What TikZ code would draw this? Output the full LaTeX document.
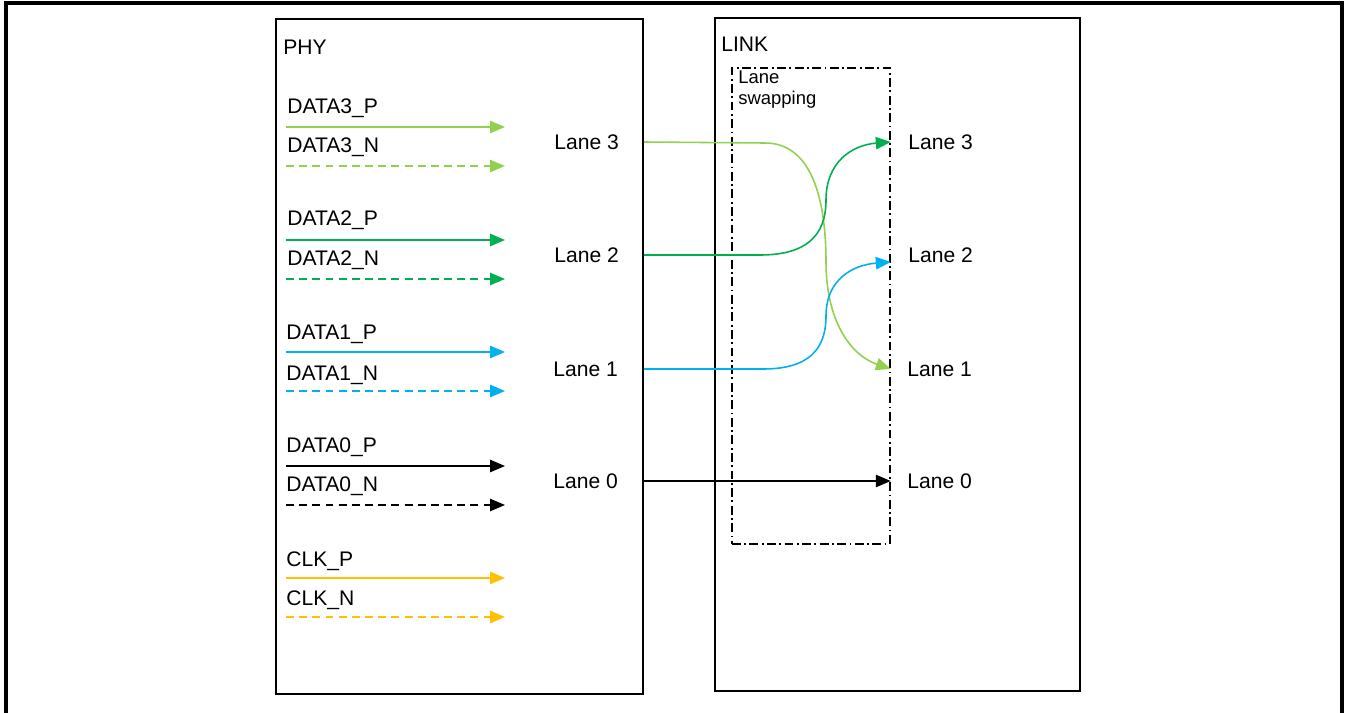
\documentclass[tikz,border=0pt]{standalone}
\usepackage{fontspec}
\setmainfont{Liberation Sans}
\usetikzlibrary{positioning, arrows.meta, calc}
\definecolor{lgreen}{RGB}{146,208,80}
\definecolor{dgreen}{RGB}{0,176,80}
\definecolor{lblue}{RGB}{0,176,240}
\definecolor{amber}{RGB}{255,192,0}
\tikzset{
  BX/.style={draw,line width=1pt},
  SW/.style={draw,line width=1pt,dash pattern=on 5pt off 2pt on 1pt off 2pt},
  TL/.style={anchor=west,inner sep=0pt,font=\fontsize{12}{14}\selectfont},
  SIG/.style={line width=0.9pt,-{Triangle[length=8.5pt,width=7pt]}},
  SIGN/.style={SIG,dash pattern=on 4.5pt off 3pt},
}

\begin{document}
\begin{tikzpicture}[x=0.02cm,y=-0.02cm]
\useasboundingbox (0,0) rectangle (1346,713);

% outer frame
\draw[line width=1.8pt] (6,720)--(6,3)--(1342,3)--(1342,720);

% blocks
\node[BX,minimum width=367*0.02cm,minimum height=675*0.02cm,anchor=north west](phy) at (275,18){};
\node[BX,minimum width=365*0.02cm,minimum height=673*0.02cm,anchor=north west](link) at (714,17){};
\node[SW,minimum width=158*0.02cm,minimum height=476*0.02cm,anchor=north west](swap) at (731,67){};
\node[TL](phyt) at (283,47){PHY};
\node[TL](linkt) at (721,44){LINK};
\node[anchor=north west,inner sep=0pt,align=left,font=\fontsize{10.5}{12}\selectfont](swapt) at (738,70){Lane\\swapping};

% PHY signals
\foreach \n/\y/\c in {d3/127/lgreen, d2/240/dgreen, d1/352/lblue, d0/466/black, ck/578/amber}{
  \coordinate (\n p-a) at (286,\y);
  \coordinate (\n p-b) at (505,\y);
  \coordinate (\n n-a) at (286,\y+39);
  \coordinate (\n n-b) at (505,\y+39);
  \draw[SIG,\c](\n p-a)--(\n p-b);
  \draw[SIGN,\c](\n n-a)--(\n n-b);
}
\node[TL](d3pt) at (287,108){DATA3\_P};
\node[TL](d3nt) at (287,147){DATA3\_N};
\node[TL](d2pt) at (287,220){DATA2\_P};
\node[TL](d2nt) at (287,260){DATA2\_N};
\node[TL](d1pt) at (286,334){DATA1\_P};
\node[TL](d1nt) at (286,375){DATA1\_N};
\node[TL](d0pt) at (286,447){DATA0\_P};
\node[TL](d0nt) at (286,486){DATA0\_N};
\node[TL](ckpt) at (286,561){CLK\_P};
\node[TL](ckntt) at (286,600){CLK\_N};

% lane labels
\node[TL](pl3) at (554,142){Lane 3};
\node[TL](pl2) at (554,255){Lane 2};
\node[TL](pl1) at (553,369){Lane 1};
\node[TL](pl0) at (553,481){Lane 0};
\node[TL](ll3) at (908,142){Lane 3};
\node[TL](ll2) at (908,255){Lane 2};
\node[TL](ll1) at (907,369){Lane 1};
\node[TL](ll0) at (907,481){Lane 0};

% lane swapping
\draw[SIG,lgreen](phy.east |- pl3)--(765,143) .. controls (812,143) and (826,200) .. (826,262) .. controls (826,320) and (850,355) .. (swap.east |- ll1);
\draw[SIG,dgreen](phy.east |- pl2)--(760,255) .. controls (806,255) and (826,236) .. (826,200) .. controls (826,162) and (852,145) .. (swap.east |- ll3);
\draw[SIG,lblue](phy.east |- pl1)--(763,369) .. controls (808,369) and (826,350) .. (826,316) .. controls (826,280) and (852,265) .. ($(swap.east |- ll2)+(0,7)$);
\draw[SIG,black](phy.east |- pl0)--(swap.east |- ll0);

\end{tikzpicture}
\end{document}
